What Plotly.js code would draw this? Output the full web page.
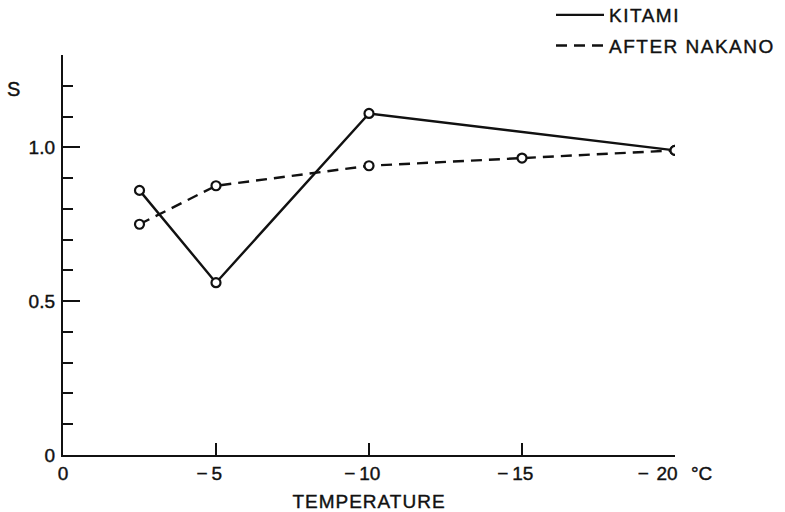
<!DOCTYPE html>
<html>
<head>
<meta charset="utf-8">
<script src="https://cdn.plot.ly/plotly-3.0.1.min.js"></script>
<style>
  html, body { margin: 0; padding: 0; background: #fff; }
  #chart { width: 785px; height: 512px; }
  /* slightly heavier lettering, like pen-plotted labels */
  #chart svg text { stroke: #111; stroke-width: 0.4px; }
  .legendtext { letter-spacing: 1.5px; }
  .xtitle { letter-spacing: 1px; }
</style>
</head>
<body>
<div id="chart"></div>
<script>
// Shape factor S against air temperature (°C)
const kitamiTemp = [-2.5, -5, -10, -20];
const kitamiS = [0.86, 0.56, 1.11, 0.99];

const nakanoTemp = [-2.5, -5, -10, -15, -20];
const nakanoS = [0.75, 0.875, 0.94, 0.965, 0.99];

// negative labels carry right padding so the digits sit over their tick;
// the last label also carries the unit
const xTickVals = [0, -5, -10, -15, -20];
const xTickText = ['0', '\u2212\u20095\u2002\u2009', '\u2212\u200910\u2002\u2009',
                   '\u2212\u200915\u2002\u2009', '\u2212\u2009\u200920\u2002\u2009\u00b0C'];
const yTickVals = [0, 0.5, 1.0];
const yTickText = ['0', '0.5', '1.0'];

const FONT = 'Liberation Sans, Arial, sans-serif';
const INK = '#111';
const FS = 19;

// open circles: white fill so the connecting lines stop at the rim
const marker = {
  symbol: 'circle',
  size: 9,
  color: '#fff',
  line: { width: 2.2, color: INK }
};

const traces = [
  {
    name: 'KITAMI',
    x: kitamiTemp, y: kitamiS,
    mode: 'lines',
    line: { color: INK, width: 2.4 },
    legendgroup: 'a'
  },
  {
    name: 'AFTER NAKANO',
    x: nakanoTemp, y: nakanoS,
    mode: 'lines',
    line: { color: INK, width: 2.4, dash: '11px,7px' },
    legendgroup: 'b'
  },
  {
    x: kitamiTemp, y: kitamiS,
    mode: 'markers', marker: marker, showlegend: false
  },
  {
    x: nakanoTemp, y: nakanoS,
    mode: 'markers', marker: marker, showlegend: false
  }
];

const layout = {
  width: 785,
  height: 512,
  margin: { l: 63, r: 110, t: 55, b: 57, autoexpand: false },
  paper_bgcolor: '#fff',
  plot_bgcolor: '#fff',
  font: { family: FONT, size: FS, color: INK },
  showlegend: true,
  legend: {
    xref: 'paper',
    x: (551 - 63) / 612,
    yref: 'paper',
    y: 1 + 59 / 400,
    yanchor: 'top',
    bgcolor: 'rgba(0,0,0,0)',
    font: { family: FONT, size: FS, color: INK },
    itemwidth: 48,
    tracegroupgap: 3,
    traceorder: 'grouped'
  },
  xaxis: {
    range: [0, -20],
    showline: true,
    linecolor: INK,
    linewidth: 2.2,
    showgrid: false,
    zeroline: false,
    tickmode: 'array',
    tickvals: xTickVals,
    ticktext: xTickText,
    ticks: 'inside',
    ticklen: 12,
    tickwidth: 2,
    tickcolor: INK,
    tickfont: { family: FONT, size: FS, color: INK },
    title: { text: 'TEMPERATURE', font: { family: FONT, size: FS, color: INK }, standoff: 12 }
  },
  yaxis: {
    range: [0, 1.3],
    showline: true,
    linecolor: INK,
    linewidth: 2.2,
    showgrid: false,
    zeroline: false,
    tickmode: 'array',
    tickvals: yTickVals,
    ticktext: yTickText,
    ticks: 'inside',
    ticklen: 17,
    tickwidth: 2,
    tickcolor: INK,
    ticklabelstandoff: 2,
    tickfont: { family: FONT, size: FS, color: INK },
    minor: { dtick: 0.1, tick0: 0, ticks: 'inside', ticklen: 10, tickwidth: 2, tickcolor: INK, showgrid: false }
  },
  annotations: [
    {
      text: 'S', xref: 'paper', yref: 'y', x: (13 - 63) / 612, y: 1.19,
      xanchor: 'center', yanchor: 'middle',
      showarrow: false, font: { family: FONT, size: FS + 1, color: INK }
    }
  ]
};

Plotly.newPlot('chart', traces, layout, { staticPlot: true, displayModeBar: false });
</script>
</body>
</html>
